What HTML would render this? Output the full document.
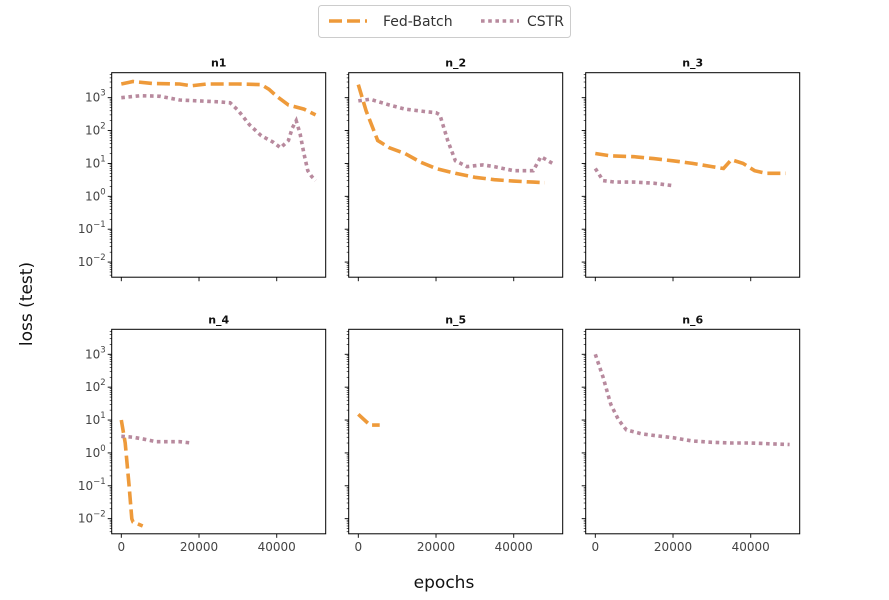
<!DOCTYPE html>
<html><head><meta charset="utf-8"><style>
body{margin:0;background:#fff;}
svg{display:block;font-family:"DejaVu Sans","Liberation Sans",sans-serif;}
</style></head><body>
<svg id="c" width="889" height="600"></svg>
<script>
const panelTitles=["n1","n_2","n_3","n_4","n_5","n_6"];
const fedX=[[0,3000,8000,15000,18000,22000,30000,36000,38000,40000,43000,47000,50000],[0,2000,5000,8000,12000,16000,20000,25000,30000,35000,40000,45000,48000],[0,4000,10000,15000,20000,25000,30000,33000,35000,38000,41000,44000,49000],[0,1000,2000,2700,3000,5500],[0,3000,5500],[]];
const fedY=[[2600,3100,2700,2600,2300,2600,2600,2500,1800,1100,600,450,300],[2500,400,50,30,20,11,7,5,3.8,3.2,2.9,2.7,2.6],[20,17,16,14,12,10,8,7,13,10,6,5,5],[10,2,0.1,0.01,0.008,0.006],[15,7,7],[]];
const cstrX=[[0,5000,10000,15000,20000,25000,28000,30000,33000,36000,39000,41000,43000,44000,45000,46000,47000,48000,49000,50000],[0,3000,8000,12000,17000,20000,21000,23000,25000,28000,32000,35000,40000,45000,47000,50000],[0,2000,5000,10000,15000,20000],[0,3000,6000,9000,12000,15000,18000],[],[0,2000,4000,6000,8000,12000,16000,20000,25000,30000,35000,40000,45000,50000]];
const cstrY=[[1000,1150,1100,850,800,750,700,420,150,70,45,30,50,120,200,80,20,6,4,3],[800,900,600,450,380,350,300,50,12,8,9,8,6,6,16,10],[7,3,2.7,2.7,2.5,2.1],[3.2,3,2.6,2.2,2.2,2.2,2.0],[],[1000,200,30,10,5,3.8,3.3,2.9,2.3,2.1,2.0,2.0,1.9,1.8]];
const xTicks=[0,20000,40000];
const yExps=[3,2,1,0,-1,-2];
const NS="http://www.w3.org/2000/svg";
const svg=document.getElementById('c');
function mk(t,a,p){const e=document.createElementNS(NS,t);for(const k in a)e.setAttribute(k,a[k]);(p||svg).appendChild(e);return e;}
const colL=[111.7,348.7,585.7],W=214,rowT=[72.7,329.3],H=204.5;
const xMin=-2470,xMax=52600,lMin=-2.46,lMax=3.76;
for(let i=0;i<6;i++){
  const L=colL[i%3],T=rowT[Math.floor(i/3)];
  const g=mk('g',{});
  
  
  const sx=v=>L+(v-xMin)/(xMax-xMin)*W;
  const sy=v=>T+(lMax-Math.log10(v))/(lMax-lMin)*H;
  const t=mk('text',{x:L+W/2,y:T-6,'text-anchor':'middle','font-size':'11','font-weight':'bold',fill:'#111'},g);t.textContent=panelTitles[i];
  
  // y ticks
  for(let e=-3;e<=3;e++){for(let m=1;m<10;m++){const v=m*Math.pow(10,e);const lv=Math.log10(v);if(lv<lMin||lv>lMax)continue;const y=sy(v);
    mk('line',{x1:L,x2:L-(m==1?4:2),y1:y,y2:y,stroke:'#000','stroke-width':m==1?0.9:0.6},g);}}
  if(i%3==0){yExps.forEach(e=>{const y=sy(Math.pow(10,e));const tx=mk('text',{x:L-6,y:y+4,'text-anchor':'end','font-size':'12',fill:'#444'},g);
    tx.innerHTML='10<tspan dy="-6" font-size="8.5">'+(e<0?'−'+(-e):e)+'</tspan>';
    });}
  xTicks.forEach(v=>{const x=sx(v);mk('line',{x1:x,x2:x,y1:T+H,y2:T+H+4,stroke:'#000','stroke-width':0.9},g);
    if(i>=3){const tx=mk('text',{x:x,y:T+H+17,'text-anchor':'middle','font-size':'12',fill:'#444'},g);tx.textContent=v;
    }});
  const drawS=(X,Y,col,dash,name)=>{if(!X.length)return;const d=X.map((x,j)=>(j?'L':'M')+sx(x).toFixed(1)+','+sy(Y[j]).toFixed(1)).join('');
    const p=mk('path',{d:d,fill:'none',stroke:col,'stroke-width':3.6,'stroke-dasharray':dash},g);
    };
  drawS(fedX[i],fedY[i],'#ee9a3a','13,5','fed-batch-line');
  drawS(cstrX[i],cstrY[i],'#b88a9e','3.6,3.6','cstr-line');
  mk('rect',{x:L,y:T,width:W,height:H,fill:'none',stroke:'#000','stroke-width':1},g);
}
const yl=mk('text',{x:32,y:304,'text-anchor':'middle','font-size':'17',fill:'#111',transform:'rotate(-90 32 304)'});yl.textContent='loss (test)';

const xl=mk('text',{x:444,y:588,'text-anchor':'middle','font-size':'17',fill:'#111'});xl.textContent='epochs';

const lg=mk('g',{});
mk('rect',{x:318.5,y:5.5,width:252,height:32,rx:3,fill:'#fff',stroke:'#ccc'},lg);
mk('line',{x1:329,x2:367,y1:21,y2:21,stroke:'#ee9a3a','stroke-width':3.6,'stroke-dasharray':'13,5'},lg);
const t1=mk('text',{x:383,y:26,'font-size':'14',fill:'#333'},lg);t1.textContent='Fed-Batch';

mk('line',{x1:481,x2:519,y1:21,y2:21,stroke:'#b88a9e','stroke-width':3.6,'stroke-dasharray':'3.6,3.6'},lg);
const t2=mk('text',{x:527,y:26,'font-size':'14',fill:'#333'},lg);t2.textContent='CSTR';

</script>
</body></html>
